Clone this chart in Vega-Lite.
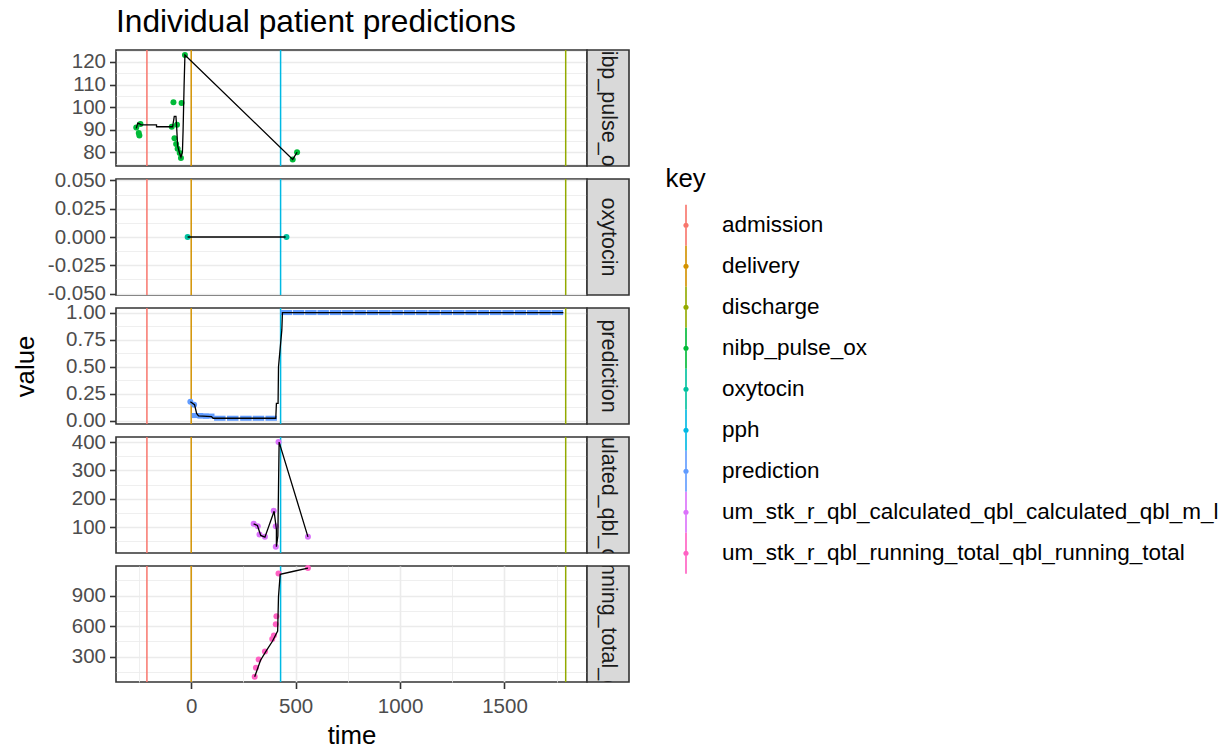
{
  "$schema": "https://vega.github.io/schema/vega-lite/v6.json",
  "padding": {"left": 11, "top": 7, "right": 0, "bottom": 0},
  "background": "white",
  "title": {"text": "Individual patient predictions", "anchor": "start", "frame": "group", "fontSize": 31.7, "fontWeight": "normal", "color": "#000000", "font": "Liberation Sans", "baseline": "alphabetic", "offset": -24},
  "datasets": {
    "events": [
      {"key": "admission", "time": -212},
      {"key": "delivery", "time": 0},
      {"key": "pph", "time": 428},
      {"key": "discharge", "time": 1793}
    ],
    "obs": [
      {"key": "nibp_pulse_ox", "time": -263, "value": 91.0},
      {"key": "nibp_pulse_ox", "time": -251, "value": 88.5},
      {"key": "nibp_pulse_ox", "time": -248, "value": 87.4},
      {"key": "nibp_pulse_ox", "time": -243, "value": 92.5},
      {"key": "nibp_pulse_ox", "time": -93, "value": 91.3},
      {"key": "nibp_pulse_ox", "time": -85, "value": 102.1},
      {"key": "nibp_pulse_ox", "time": -80, "value": 86.2},
      {"key": "nibp_pulse_ox", "time": -72, "value": 83.7},
      {"key": "nibp_pulse_ox", "time": -68, "value": 92.2},
      {"key": "nibp_pulse_ox", "time": -65, "value": 81.5},
      {"key": "nibp_pulse_ox", "time": -55, "value": 79.7},
      {"key": "nibp_pulse_ox", "time": -49, "value": 77.4},
      {"key": "nibp_pulse_ox", "time": -46, "value": 101.8},
      {"key": "nibp_pulse_ox", "time": -30, "value": 123.1},
      {"key": "nibp_pulse_ox", "time": 486, "value": 76.8},
      {"key": "nibp_pulse_ox", "time": 507, "value": 80.0},
      {"key": "oxytocin", "time": -17, "value": 0},
      {"key": "oxytocin", "time": 456, "value": 0},
      {"key": "prediction", "time": -4, "value": 0.178},
      {"key": "prediction", "time": 14, "value": 0.15},
      {"key": "prediction", "time": 30, "value": 0.05},
      {"key": "prediction", "time": 57, "value": 0.045},
      {"key": "prediction", "time": 84, "value": 0.045},
      {"key": "prediction", "time": 137, "value": 0.025},
      {"key": "prediction", "time": 199, "value": 0.025},
      {"key": "prediction", "time": 262, "value": 0.025},
      {"key": "prediction", "time": 322, "value": 0.025},
      {"key": "prediction", "time": 383, "value": 0.025},
      {"key": "prediction", "time": 455, "value": 1.0},
      {"key": "prediction", "time": 514, "value": 1.0},
      {"key": "prediction", "time": 573, "value": 1.0},
      {"key": "prediction", "time": 632, "value": 1.0},
      {"key": "prediction", "time": 691, "value": 1.0},
      {"key": "prediction", "time": 750, "value": 1.0},
      {"key": "prediction", "time": 809, "value": 1.0},
      {"key": "prediction", "time": 868, "value": 1.0},
      {"key": "prediction", "time": 927, "value": 1.0},
      {"key": "prediction", "time": 986, "value": 1.0},
      {"key": "prediction", "time": 1045, "value": 1.0},
      {"key": "prediction", "time": 1104, "value": 1.0},
      {"key": "prediction", "time": 1163, "value": 1.0},
      {"key": "prediction", "time": 1222, "value": 1.0},
      {"key": "prediction", "time": 1281, "value": 1.0},
      {"key": "prediction", "time": 1340, "value": 1.0},
      {"key": "prediction", "time": 1399, "value": 1.0},
      {"key": "prediction", "time": 1458, "value": 1.0},
      {"key": "prediction", "time": 1517, "value": 1.0},
      {"key": "prediction", "time": 1576, "value": 1.0},
      {"key": "prediction", "time": 1635, "value": 1.0},
      {"key": "prediction", "time": 1694, "value": 1.0},
      {"key": "prediction", "time": 1753, "value": 1.0},
      {"key": "um_stk_r_qbl_calculated_qbl_calculated_qbl_m_l", "time": 299, "value": 112},
      {"key": "um_stk_r_qbl_calculated_qbl_calculated_qbl_m_l", "time": 319, "value": 103.5},
      {"key": "um_stk_r_qbl_calculated_qbl_calculated_qbl_m_l", "time": 327, "value": 74},
      {"key": "um_stk_r_qbl_calculated_qbl_calculated_qbl_m_l", "time": 353, "value": 66},
      {"key": "um_stk_r_qbl_calculated_qbl_calculated_qbl_m_l", "time": 395, "value": 158},
      {"key": "um_stk_r_qbl_calculated_qbl_calculated_qbl_m_l", "time": 405, "value": 103},
      {"key": "um_stk_r_qbl_calculated_qbl_calculated_qbl_m_l", "time": 405, "value": 31},
      {"key": "um_stk_r_qbl_calculated_qbl_calculated_qbl_m_l", "time": 418, "value": 400},
      {"key": "um_stk_r_qbl_calculated_qbl_calculated_qbl_m_l", "time": 559, "value": 66},
      {"key": "um_stk_r_qbl_running_total_qbl_running_total", "time": 304, "value": 105},
      {"key": "um_stk_r_qbl_running_total_qbl_running_total", "time": 310, "value": 192},
      {"key": "um_stk_r_qbl_running_total_qbl_running_total", "time": 323, "value": 273},
      {"key": "um_stk_r_qbl_running_total_qbl_running_total", "time": 353, "value": 351},
      {"key": "um_stk_r_qbl_running_total_qbl_running_total", "time": 388, "value": 475},
      {"key": "um_stk_r_qbl_running_total_qbl_running_total", "time": 396, "value": 509},
      {"key": "um_stk_r_qbl_running_total_qbl_running_total", "time": 405, "value": 620},
      {"key": "um_stk_r_qbl_running_total_qbl_running_total", "time": 408, "value": 698},
      {"key": "um_stk_r_qbl_running_total_qbl_running_total", "time": 418, "value": 1116},
      {"key": "um_stk_r_qbl_running_total_qbl_running_total", "time": 559, "value": 1170}
    ],
    "lines": [
      {"key": "nibp_pulse_ox", "seq": 1, "time": -263, "value": 90.6},
      {"key": "nibp_pulse_ox", "seq": 2, "time": -256, "value": 92.9},
      {"key": "nibp_pulse_ox", "seq": 3, "time": -247, "value": 92.6},
      {"key": "nibp_pulse_ox", "seq": 4, "time": -240, "value": 92.1},
      {"key": "nibp_pulse_ox", "seq": 5, "time": -166, "value": 92.1},
      {"key": "nibp_pulse_ox", "seq": 6, "time": -166, "value": 91.3},
      {"key": "nibp_pulse_ox", "seq": 7, "time": -89, "value": 91.3},
      {"key": "nibp_pulse_ox", "seq": 8, "time": -81, "value": 95.9},
      {"key": "nibp_pulse_ox", "seq": 9, "time": -73, "value": 95.9},
      {"key": "nibp_pulse_ox", "seq": 10, "time": -70, "value": 91.8},
      {"key": "nibp_pulse_ox", "seq": 11, "time": -65, "value": 82.9},
      {"key": "nibp_pulse_ox", "seq": 12, "time": -57, "value": 80.0},
      {"key": "nibp_pulse_ox", "seq": 13, "time": -49, "value": 77.8},
      {"key": "nibp_pulse_ox", "seq": 14, "time": -42, "value": 80.0},
      {"key": "nibp_pulse_ox", "seq": 15, "time": -39, "value": 89.1},
      {"key": "nibp_pulse_ox", "seq": 16, "time": -34, "value": 109.4},
      {"key": "nibp_pulse_ox", "seq": 17, "time": -30, "value": 123.1},
      {"key": "nibp_pulse_ox", "seq": 18, "time": 486, "value": 76.8},
      {"key": "nibp_pulse_ox", "seq": 19, "time": 507, "value": 80.0},
      {"key": "oxytocin", "seq": 1, "time": -17, "value": 0},
      {"key": "oxytocin", "seq": 2, "time": 452, "value": 0},
      {"key": "prediction", "seq": 1, "time": -4, "value": 0.178},
      {"key": "prediction", "seq": 2, "time": 16, "value": 0.15},
      {"key": "prediction", "seq": 3, "time": 26, "value": 0.069},
      {"key": "prediction", "seq": 4, "time": 35, "value": 0.047},
      {"key": "prediction", "seq": 5, "time": 97, "value": 0.041},
      {"key": "prediction", "seq": 6, "time": 105, "value": 0.025},
      {"key": "prediction", "seq": 7, "time": 405, "value": 0.025},
      {"key": "prediction", "seq": 8, "time": 408, "value": 0.1625},
      {"key": "prediction", "seq": 9, "time": 416, "value": 0.1625},
      {"key": "prediction", "seq": 10, "time": 418, "value": 0.5},
      {"key": "prediction", "seq": 11, "time": 434, "value": 0.84},
      {"key": "prediction", "seq": 12, "time": 437, "value": 1.0},
      {"key": "prediction", "seq": 13, "time": 1782, "value": 1.0},
      {"key": "um_stk_r_qbl_calculated_qbl_calculated_qbl_m_l", "seq": 1, "time": 299, "value": 112},
      {"key": "um_stk_r_qbl_calculated_qbl_calculated_qbl_m_l", "seq": 2, "time": 317, "value": 106},
      {"key": "um_stk_r_qbl_calculated_qbl_calculated_qbl_m_l", "seq": 3, "time": 333, "value": 71},
      {"key": "um_stk_r_qbl_calculated_qbl_calculated_qbl_m_l", "seq": 4, "time": 353, "value": 65},
      {"key": "um_stk_r_qbl_calculated_qbl_calculated_qbl_m_l", "seq": 5, "time": 397, "value": 156},
      {"key": "um_stk_r_qbl_calculated_qbl_calculated_qbl_m_l", "seq": 6, "time": 408, "value": 92},
      {"key": "um_stk_r_qbl_calculated_qbl_calculated_qbl_m_l", "seq": 7, "time": 408, "value": 31},
      {"key": "um_stk_r_qbl_calculated_qbl_calculated_qbl_m_l", "seq": 8, "time": 415, "value": 69},
      {"key": "um_stk_r_qbl_calculated_qbl_calculated_qbl_m_l", "seq": 9, "time": 418, "value": 237},
      {"key": "um_stk_r_qbl_calculated_qbl_calculated_qbl_m_l", "seq": 10, "time": 421, "value": 400},
      {"key": "um_stk_r_qbl_calculated_qbl_calculated_qbl_m_l", "seq": 11, "time": 559, "value": 66},
      {"key": "um_stk_r_qbl_running_total_qbl_running_total", "seq": 1, "time": 304, "value": 105},
      {"key": "um_stk_r_qbl_running_total_qbl_running_total", "seq": 2, "time": 332, "value": 266},
      {"key": "um_stk_r_qbl_running_total_qbl_running_total", "seq": 3, "time": 360, "value": 361},
      {"key": "um_stk_r_qbl_running_total_qbl_running_total", "seq": 4, "time": 389, "value": 452},
      {"key": "um_stk_r_qbl_running_total_qbl_running_total", "seq": 5, "time": 414, "value": 553},
      {"key": "um_stk_r_qbl_running_total_qbl_running_total", "seq": 6, "time": 418, "value": 890},
      {"key": "um_stk_r_qbl_running_total_qbl_running_total", "seq": 7, "time": 426, "value": 1109},
      {"key": "um_stk_r_qbl_running_total_qbl_running_total", "seq": 8, "time": 486, "value": 1136},
      {"key": "um_stk_r_qbl_running_total_qbl_running_total", "seq": 9, "time": 559, "value": 1170}
    ]
  },
  "columns": 2,
  "spacing": {"row": 13, "column": 0},
  "bounds": "flush",
  "resolve": {"scale": {"color": "shared", "x": "independent", "y": "independent"}, "legend": {"color": "shared"}},
  "concat": [
    {
      "width": 471, "height": 116,
      "layer": [
        {
          "data": {"name": "events"},
          "mark": {"type": "rule", "strokeWidth": 1.5},
          "encoding": {
            "x": {"field": "time", "type": "quantitative", "scale": {"domain": [-360, 1895], "nice": false, "zero": false},
                  "axis": {"values": [-250, 0, 250, 500, 750, 1000, 1250, 1500, 1750], "labels": false, "ticks": false, "domain": false, "title": null, "grid": true, "gridWidth": {"condition": {"test": "datum.value % 500 === 0", "value": 1.6}, "value": 0.8}}},
            "color": {"field": "key", "type": "nominal",
                      "scale": {"domain": ["admission", "delivery", "discharge", "nibp_pulse_ox", "oxytocin", "pph", "prediction", "um_stk_r_qbl_calculated_qbl_calculated_qbl_m_l", "um_stk_r_qbl_running_total_qbl_running_total"], "range": ["#F8766D", "#D39200", "#93AA00", "#00BA38", "#00C19F", "#00B9E3", "#619CFF", "#DB72FB", "#FF61C3"]},
                      "legend": {"title": "key", "orient": "none", "legendX": 549.5, "legendY": 117, "symbolType": "M-0.04,-1L0.04,-1L0.04,1L-0.04,1Z M-0.13,0A0.13,0.13 0 1,1 0.13,0A0.13,0.13 0 1,1 -0.13,0Z", "symbolSize": 1681, "symbolStrokeWidth": 0, "symbolOpacity": 1, "labelFontSize": 22.5, "labelColor": "#000000", "labelFont": "Liberation Sans", "titleFontSize": 25.8, "titleFontWeight": "normal", "titleColor": "#000000", "titleFont": "Liberation Sans", "labelOffset": 15.5, "rowPadding": 0, "titlePadding": 12, "padding": 0, "labelLimit": 600}}
          }
        },
        {
          "encoding": {
            "x": {"field": "time", "type": "quantitative", "scale": {"domain": [-360, 1895], "nice": false, "zero": false}, "axis": null},
            "y": {"field": "value", "type": "quantitative", "scale": {"domain": [73.9, 125.3], "nice": false, "zero": false},
                  "axis": {"values": [75, 80, 85, 90, 95, 100, 105, 110, 115, 120, 125], "format": "d", "labelExpr": "datum.value % 10 === 0 ? datum.label : ''", "tickOpacity": {"condition": {"test": "datum.value % 10 === 0", "value": 1}, "value": 0}, "gridWidth": {"condition": {"test": "datum.value % 10 === 0", "value": 1.6}, "value": 0.8}, "title": null, "grid": true, "domain": false, "labelPadding": 4, "labelOverlap": false, "labelFlush": false}}
          },
          "layer": [
            {
              "data": {"name": "obs"},
              "transform": [{"filter": "datum.key === 'nibp_pulse_ox'"}],
              "mark": {"type": "point", "filled": true, "size": 36, "opacity": 1},
              "encoding": {
                "color": {"field": "key", "type": "nominal",
                          "scale": {"domain": ["admission", "delivery", "discharge", "nibp_pulse_ox", "oxytocin", "pph", "prediction", "um_stk_r_qbl_calculated_qbl_calculated_qbl_m_l", "um_stk_r_qbl_running_total_qbl_running_total"], "range": ["#F8766D", "#D39200", "#93AA00", "#00BA38", "#00C19F", "#00B9E3", "#619CFF", "#DB72FB", "#FF61C3"]}}
              }
            },
            {
              "data": {"name": "lines"},
              "transform": [{"filter": "datum.key === 'nibp_pulse_ox'"}],
              "mark": {"type": "line", "color": "#000000", "strokeWidth": 1.3},
              "encoding": {"order": {"field": "seq", "type": "quantitative"}}
            }
          ]
        }
      ]
    },
    {
      "width": 42, "height": 116,
      "view": {"fill": "#D9D9D9", "stroke": "#333333", "strokeWidth": 1.6},
      "data": {"values": [{"label": "nibp_pulse_ox"}]},
      "mark": {"type": "text", "angle": 90, "fontSize": 21.5, "color": "#1A1A1A", "clip": true, "align": "center", "baseline": "middle", "font": "Liberation Sans"},
      "encoding": {"text": {"field": "label", "type": "nominal"}}
    },
    {
      "width": 471, "height": 116,
      "layer": [
        {
          "data": {"name": "events"},
          "mark": {"type": "rule", "strokeWidth": 1.5},
          "encoding": {
            "x": {"field": "time", "type": "quantitative", "scale": {"domain": [-360, 1895], "nice": false, "zero": false},
                  "axis": {"values": [-250, 0, 250, 500, 750, 1000, 1250, 1500, 1750], "labels": false, "ticks": false, "domain": false, "title": null, "grid": true, "gridWidth": {"condition": {"test": "datum.value % 500 === 0", "value": 1.6}, "value": 0.8}}},
            "color": {"field": "key", "type": "nominal",
                      "scale": {"domain": ["admission", "delivery", "discharge", "nibp_pulse_ox", "oxytocin", "pph", "prediction", "um_stk_r_qbl_calculated_qbl_calculated_qbl_m_l", "um_stk_r_qbl_running_total_qbl_running_total"], "range": ["#F8766D", "#D39200", "#93AA00", "#00BA38", "#00C19F", "#00B9E3", "#619CFF", "#DB72FB", "#FF61C3"]}}
          }
        },
        {
          "encoding": {
            "x": {"field": "time", "type": "quantitative", "scale": {"domain": [-360, 1895], "nice": false, "zero": false}, "axis": null},
            "y": {"field": "value", "type": "quantitative", "scale": {"domain": [-0.0512, 0.0512], "nice": false, "zero": false},
                  "axis": {"values": [-0.05, -0.0375, -0.025, -0.0125, 0, 0.0125, 0.025, 0.0375, 0.05], "labelExpr": "abs(datum.value*40 - round(datum.value*40)) < 0.001 ? (datum.value < -0.0001 ? '-' + format(-datum.value, '.3f') : format(abs(datum.value), '.3f')) : ''", "tickOpacity": {"condition": {"test": "abs(datum.value*40 - round(datum.value*40)) < 0.001", "value": 1}, "value": 0}, "gridWidth": {"condition": {"test": "abs(datum.value*40 - round(datum.value*40)) < 0.001", "value": 1.6}, "value": 0.8}, "title": null, "grid": true, "domain": false, "labelPadding": 4, "labelOverlap": false, "labelFlush": false}}
          },
          "layer": [
            {
              "data": {"name": "obs"},
              "transform": [{"filter": "datum.key === 'oxytocin'"}],
              "mark": {"type": "point", "filled": true, "size": 36, "opacity": 1},
              "encoding": {
                "color": {"field": "key", "type": "nominal",
                          "scale": {"domain": ["admission", "delivery", "discharge", "nibp_pulse_ox", "oxytocin", "pph", "prediction", "um_stk_r_qbl_calculated_qbl_calculated_qbl_m_l", "um_stk_r_qbl_running_total_qbl_running_total"], "range": ["#F8766D", "#D39200", "#93AA00", "#00BA38", "#00C19F", "#00B9E3", "#619CFF", "#DB72FB", "#FF61C3"]}}
              }
            },
            {
              "data": {"name": "lines"},
              "transform": [{"filter": "datum.key === 'oxytocin'"}],
              "mark": {"type": "line", "color": "#000000", "strokeWidth": 1.3},
              "encoding": {"order": {"field": "seq", "type": "quantitative"}}
            }
          ]
        }
      ]
    },
    {
      "width": 42, "height": 116,
      "view": {"fill": "#D9D9D9", "stroke": "#333333", "strokeWidth": 1.6},
      "data": {"values": [{"label": "oxytocin"}]},
      "mark": {"type": "text", "angle": 90, "fontSize": 21.5, "color": "#1A1A1A", "clip": true, "align": "center", "baseline": "middle", "font": "Liberation Sans"},
      "encoding": {"text": {"field": "label", "type": "nominal"}}
    },
    {
      "width": 471, "height": 116,
      "layer": [
        {
          "data": {"name": "events"},
          "mark": {"type": "rule", "strokeWidth": 1.5},
          "encoding": {
            "x": {"field": "time", "type": "quantitative", "scale": {"domain": [-360, 1895], "nice": false, "zero": false},
                  "axis": {"values": [-250, 0, 250, 500, 750, 1000, 1250, 1500, 1750], "labels": false, "ticks": false, "domain": false, "title": null, "grid": true, "gridWidth": {"condition": {"test": "datum.value % 500 === 0", "value": 1.6}, "value": 0.8}}},
            "color": {"field": "key", "type": "nominal",
                      "scale": {"domain": ["admission", "delivery", "discharge", "nibp_pulse_ox", "oxytocin", "pph", "prediction", "um_stk_r_qbl_calculated_qbl_calculated_qbl_m_l", "um_stk_r_qbl_running_total_qbl_running_total"], "range": ["#F8766D", "#D39200", "#93AA00", "#00BA38", "#00C19F", "#00B9E3", "#619CFF", "#DB72FB", "#FF61C3"]}}
          }
        },
        {
          "encoding": {
            "x": {"field": "time", "type": "quantitative", "scale": {"domain": [-360, 1895], "nice": false, "zero": false}, "axis": null},
            "y": {"field": "value", "type": "quantitative", "scale": {"domain": [-0.028, 1.042], "nice": false, "zero": false},
                  "axis": {"values": [0, 0.125, 0.25, 0.375, 0.5, 0.625, 0.75, 0.875, 1], "labelExpr": "abs(datum.value*4 - round(datum.value*4)) < 0.001 ? format(datum.value, '.2f') : ''", "tickOpacity": {"condition": {"test": "abs(datum.value*4 - round(datum.value*4)) < 0.001", "value": 1}, "value": 0}, "gridWidth": {"condition": {"test": "abs(datum.value*4 - round(datum.value*4)) < 0.001", "value": 1.6}, "value": 0.8}, "title": "value", "titleX": -83, "titleBaseline": "alphabetic", "titleFontSize": 25.8, "titleFontWeight": "normal", "titleColor": "#000000", "grid": true, "domain": false, "labelPadding": 4, "labelOverlap": false, "labelFlush": false}}
          },
          "layer": [
            {
              "data": {"name": "obs"},
              "transform": [{"filter": "datum.key === 'prediction' && datum.time <= 20"}],
              "mark": {"type": "point", "filled": true, "size": 36, "opacity": 1},
              "encoding": {
                "color": {"field": "key", "type": "nominal",
                          "scale": {"domain": ["admission", "delivery", "discharge", "nibp_pulse_ox", "oxytocin", "pph", "prediction", "um_stk_r_qbl_calculated_qbl_calculated_qbl_m_l", "um_stk_r_qbl_running_total_qbl_running_total"], "range": ["#F8766D", "#D39200", "#93AA00", "#00BA38", "#00C19F", "#00B9E3", "#619CFF", "#DB72FB", "#FF61C3"]}}
              }
            },
            {
              "data": {"name": "obs"},
              "transform": [{"filter": "datum.key === 'prediction' && datum.time > 20"}],
              "mark": {"type": "point", "shape": "M-1,-0.44H1V0.44H-1Z", "filled": true, "size": 132, "opacity": 1, "strokeWidth": 0},
              "encoding": {
                "color": {"field": "key", "type": "nominal",
                          "scale": {"domain": ["admission", "delivery", "discharge", "nibp_pulse_ox", "oxytocin", "pph", "prediction", "um_stk_r_qbl_calculated_qbl_calculated_qbl_m_l", "um_stk_r_qbl_running_total_qbl_running_total"], "range": ["#F8766D", "#D39200", "#93AA00", "#00BA38", "#00C19F", "#00B9E3", "#619CFF", "#DB72FB", "#FF61C3"]}}
              }
            },
            {
              "data": {"name": "lines"},
              "transform": [{"filter": "datum.key === 'prediction'"}],
              "mark": {"type": "line", "color": "#000000", "strokeWidth": 1.3},
              "encoding": {"order": {"field": "seq", "type": "quantitative"}}
            }
          ]
        }
      ]
    },
    {
      "width": 42, "height": 116,
      "view": {"fill": "#D9D9D9", "stroke": "#333333", "strokeWidth": 1.6},
      "data": {"values": [{"label": "prediction"}]},
      "mark": {"type": "text", "angle": 90, "fontSize": 21.5, "color": "#1A1A1A", "clip": true, "align": "center", "baseline": "middle", "font": "Liberation Sans"},
      "encoding": {"text": {"field": "label", "type": "nominal"}}
    },
    {
      "width": 471, "height": 116,
      "layer": [
        {
          "data": {"name": "events"},
          "mark": {"type": "rule", "strokeWidth": 1.5},
          "encoding": {
            "x": {"field": "time", "type": "quantitative", "scale": {"domain": [-360, 1895], "nice": false, "zero": false},
                  "axis": {"values": [-250, 0, 250, 500, 750, 1000, 1250, 1500, 1750], "labels": false, "ticks": false, "domain": false, "title": null, "grid": true, "gridWidth": {"condition": {"test": "datum.value % 500 === 0", "value": 1.6}, "value": 0.8}}},
            "color": {"field": "key", "type": "nominal",
                      "scale": {"domain": ["admission", "delivery", "discharge", "nibp_pulse_ox", "oxytocin", "pph", "prediction", "um_stk_r_qbl_calculated_qbl_calculated_qbl_m_l", "um_stk_r_qbl_running_total_qbl_running_total"], "range": ["#F8766D", "#D39200", "#93AA00", "#00BA38", "#00C19F", "#00B9E3", "#619CFF", "#DB72FB", "#FF61C3"]}}
          }
        },
        {
          "encoding": {
            "x": {"field": "time", "type": "quantitative", "scale": {"domain": [-360, 1895], "nice": false, "zero": false}, "axis": null},
            "y": {"field": "value", "type": "quantitative", "scale": {"domain": [9, 418], "nice": false, "zero": false},
                  "axis": {"values": [50, 100, 150, 200, 250, 300, 350, 400], "format": "d", "labelExpr": "datum.value % 100 === 0 ? datum.label : ''", "tickOpacity": {"condition": {"test": "datum.value % 100 === 0", "value": 1}, "value": 0}, "gridWidth": {"condition": {"test": "datum.value % 100 === 0", "value": 1.6}, "value": 0.8}, "title": null, "grid": true, "domain": false, "labelPadding": 4, "labelOverlap": false, "labelFlush": false}}
          },
          "layer": [
            {
              "data": {"name": "obs"},
              "transform": [{"filter": "datum.key === 'um_stk_r_qbl_calculated_qbl_calculated_qbl_m_l'"}],
              "mark": {"type": "point", "filled": true, "size": 36, "opacity": 1},
              "encoding": {
                "color": {"field": "key", "type": "nominal",
                          "scale": {"domain": ["admission", "delivery", "discharge", "nibp_pulse_ox", "oxytocin", "pph", "prediction", "um_stk_r_qbl_calculated_qbl_calculated_qbl_m_l", "um_stk_r_qbl_running_total_qbl_running_total"], "range": ["#F8766D", "#D39200", "#93AA00", "#00BA38", "#00C19F", "#00B9E3", "#619CFF", "#DB72FB", "#FF61C3"]}}
              }
            },
            {
              "data": {"name": "lines"},
              "transform": [{"filter": "datum.key === 'um_stk_r_qbl_calculated_qbl_calculated_qbl_m_l'"}],
              "mark": {"type": "line", "color": "#000000", "strokeWidth": 1.3},
              "encoding": {"order": {"field": "seq", "type": "quantitative"}}
            }
          ]
        }
      ]
    },
    {
      "width": 42, "height": 116,
      "view": {"fill": "#D9D9D9", "stroke": "#333333", "strokeWidth": 1.6},
      "data": {"values": [{"label": "um_stk_r_qbl_calculated_qbl_calculated_qbl_m_l"}]},
      "mark": {"type": "text", "angle": 90, "fontSize": 21.5, "color": "#1A1A1A", "clip": true, "align": "center", "baseline": "middle", "font": "Liberation Sans"},
      "encoding": {"text": {"field": "label", "type": "nominal"}}
    },
    {
      "width": 471, "height": 116,
      "layer": [
        {
          "data": {"name": "events"},
          "mark": {"type": "rule", "strokeWidth": 1.5},
          "encoding": {
            "x": {"field": "time", "type": "quantitative", "scale": {"domain": [-360, 1895], "nice": false, "zero": false},
                  "axis": {"orient": "bottom", "values": [-250, 0, 250, 500, 750, 1000, 1250, 1500, 1750], "format": "d", "labels": true, "ticks": true, "labelExpr": "datum.value % 500 === 0 ? datum.label : ''", "tickOpacity": {"condition": {"test": "datum.value % 500 === 0", "value": 1}, "value": 0}, "domain": false, "title": "time", "grid": true, "gridWidth": {"condition": {"test": "datum.value % 500 === 0", "value": 1.6}, "value": 0.8}, "labelPadding": 8, "titlePadding": 6, "labelFlush": false, "labelOverlap": false}},
            "color": {"field": "key", "type": "nominal",
                      "scale": {"domain": ["admission", "delivery", "discharge", "nibp_pulse_ox", "oxytocin", "pph", "prediction", "um_stk_r_qbl_calculated_qbl_calculated_qbl_m_l", "um_stk_r_qbl_running_total_qbl_running_total"], "range": ["#F8766D", "#D39200", "#93AA00", "#00BA38", "#00C19F", "#00B9E3", "#619CFF", "#DB72FB", "#FF61C3"]}}
          }
        },
        {
          "encoding": {
            "x": {"field": "time", "type": "quantitative", "scale": {"domain": [-360, 1895], "nice": false, "zero": false},
                  "axis": {"orient": "bottom", "values": [-250, 0, 250, 500, 750, 1000, 1250, 1500, 1750], "format": "d", "labels": true, "ticks": true, "labelExpr": "datum.value % 500 === 0 ? datum.label : ''", "tickOpacity": {"condition": {"test": "datum.value % 500 === 0", "value": 1}, "value": 0}, "domain": false, "title": "time", "grid": true, "gridWidth": {"condition": {"test": "datum.value % 500 === 0", "value": 1.6}, "value": 0.8}, "labelPadding": 8, "titlePadding": 6, "labelFlush": false, "labelOverlap": false}},
            "y": {"field": "value", "type": "quantitative", "scale": {"domain": [53, 1190], "nice": false, "zero": false},
                  "axis": {"values": [150, 300, 450, 600, 750, 900, 1050], "format": "d", "labelExpr": "datum.value % 300 === 0 ? datum.label : ''", "tickOpacity": {"condition": {"test": "datum.value % 300 === 0", "value": 1}, "value": 0}, "gridWidth": {"condition": {"test": "datum.value % 300 === 0", "value": 1.6}, "value": 0.8}, "title": null, "grid": true, "domain": false, "labelPadding": 4, "labelOverlap": false, "labelFlush": false}}
          },
          "layer": [
            {
              "data": {"name": "obs"},
              "transform": [{"filter": "datum.key === 'um_stk_r_qbl_running_total_qbl_running_total'"}],
              "mark": {"type": "point", "filled": true, "size": 36, "opacity": 1},
              "encoding": {
                "color": {"field": "key", "type": "nominal",
                          "scale": {"domain": ["admission", "delivery", "discharge", "nibp_pulse_ox", "oxytocin", "pph", "prediction", "um_stk_r_qbl_calculated_qbl_calculated_qbl_m_l", "um_stk_r_qbl_running_total_qbl_running_total"], "range": ["#F8766D", "#D39200", "#93AA00", "#00BA38", "#00C19F", "#00B9E3", "#619CFF", "#DB72FB", "#FF61C3"]}}
              }
            },
            {
              "data": {"name": "lines"},
              "transform": [{"filter": "datum.key === 'um_stk_r_qbl_running_total_qbl_running_total'"}],
              "mark": {"type": "line", "color": "#000000", "strokeWidth": 1.3},
              "encoding": {"order": {"field": "seq", "type": "quantitative"}}
            }
          ]
        }
      ]
    },
    {
      "width": 42, "height": 116,
      "view": {"fill": "#D9D9D9", "stroke": "#333333", "strokeWidth": 1.6},
      "data": {"values": [{"label": "um_stk_r_qbl_running_total_qbl_running_total"}]},
      "mark": {"type": "text", "angle": 90, "fontSize": 21.5, "color": "#1A1A1A", "clip": true, "align": "center", "baseline": "middle", "font": "Liberation Sans"},
      "encoding": {"text": {"field": "label", "type": "nominal"}}
    }
  ],
  "config": {
    "font": "Liberation Sans",
    "view": {"stroke": "#333333", "strokeWidth": 1.6},
    "axis": {"gridColor": "#EBEBEB", "domain": false, "tickColor": "#333333", "tickWidth": 1.6, "tickSize": 6.5, "labelColor": "#4D4D4D", "labelFontSize": 20.5, "labelFont": "Liberation Sans", "titleFont": "Liberation Sans", "titleFontSize": 25.8, "titleFontWeight": "normal", "titleColor": "#000000"}
  }
}
